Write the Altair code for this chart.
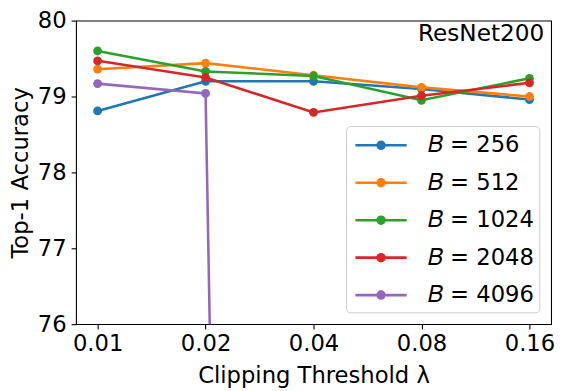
import altair as alt
import pandas as pd

thresholds = [0.01, 0.02, 0.04, 0.08, 0.16]
batch_sizes = ["256", "512", "1024", "2048", "4096"]
acc_256 = [78.81, 79.20, 79.20, 79.10, 78.96]
acc_512 = [79.36, 79.44, 79.28, 79.12, 79.00]
acc_1024 = [79.60, 79.33, 79.27, 78.95, 79.24]
acc_2048 = [79.47, 79.25, 78.79, 79.01, 79.18]
acc_4096 = [79.17, 79.04, 0.1, 0.1, 0.1]
colors = ["#1f77b4", "#ff7f0e", "#2ca02c", "#d62728", "#9467bd"]
y_ticks = [76, 77, 78, 79, 80]
panel_title = ["ResNet200"]

series = [acc_256, acc_512, acc_1024, acc_2048, acc_4096]
rows = []
for i, (b, vals) in enumerate(zip(batch_sizes, series)):
    for j, (t, v) in enumerate(zip(thresholds, vals)):
        rows.append({"lam": t, "acc": v, "B": b, "order": i * 10 + j})
df = pd.DataFrame(rows)

FONT = "DejaVu Sans"
W, H = 482, 308

x = alt.X(
    "lam:Q",
    scale=alt.Scale(type="log", base=2, domain=[0.01 * 2 ** -0.2, 0.16 * 2 ** 0.2], nice=False),
    axis=alt.Axis(values=thresholds, format=".2f", title="Clipping Threshold λ",
                  labelPadding=4, titlePadding=9),
)
y = alt.Y(
    "acc:Q",
    scale=alt.Scale(domain=[76, 80], nice=False, zero=False),
    axis=alt.Axis(values=y_ticks, format="d", title="Top-1 Accuracy",
                  labelPadding=5, titlePadding=5),
)

sym_path = ("M-2,0L2,0"
            "M0.092,0A0.092,0.092,0,1,1,-0.092,0A0.092,0.092,0,1,1,0.092,0"
            "M0.27,0A0.27,0.27,0,1,1,-0.27,0A0.27,0.27,0,1,1,0.27,0")

legend = alt.Legend(
    title=None, orient="none", legendX=274, legendY=107,
    symbolType=sym_path, symbolSize=676, symbolStrokeWidth=2.6,
    symbolOffset=16, labelOffset=33, rowPadding=11, padding=5,
    strokeColor="#cccccc", fillColor="white", cornerRadius=4,
    labelFont=FONT, labelFontSize=23, labelColor="black",
    labelExpr="'𝐵 = ' + datum.label",
)

color_scale = alt.Scale(domain=batch_sizes, range=colors)

lines = alt.Chart(df).mark_line(strokeWidth=2.6, clip=True).encode(
    x=x, y=y,
    color=alt.Color("B:N", scale=color_scale, sort=batch_sizes, legend=legend),
    order="order:Q",
)
points = alt.Chart(df).mark_circle(size=80, opacity=1, clip=True).encode(
    x=x, y=y,
    color=alt.Color("B:N", scale=color_scale, sort=batch_sizes, legend=None),
    order="order:Q",
)
label = alt.Chart(pd.DataFrame({"t": panel_title})).mark_text(
    align="right", baseline="alphabetic", font=FONT, fontSize=23.5, color="black"
).encode(text="t:N", x=alt.value(W - 7), y=alt.value(21))

chart = alt.layer(lines, points, label).properties(
    width=W, height=H,
    autosize=alt.AutoSizeParams(type="none"),
    padding={"left": 69, "top": 10, "right": 5, "bottom": 65},
).configure_view(
    stroke="black", strokeWidth=1.1
).configure_axis(
    domain=False, grid=False, tickColor="black", tickSize=5, tickWidth=1.1,
    labelFont=FONT, labelFontSize=23, labelColor="black",
    titleFont=FONT, titleFontSize=23, titleFontWeight="normal", titleColor="black",
)

chart.save("out.html", embed_options={"renderer": "svg", "actions": False})
